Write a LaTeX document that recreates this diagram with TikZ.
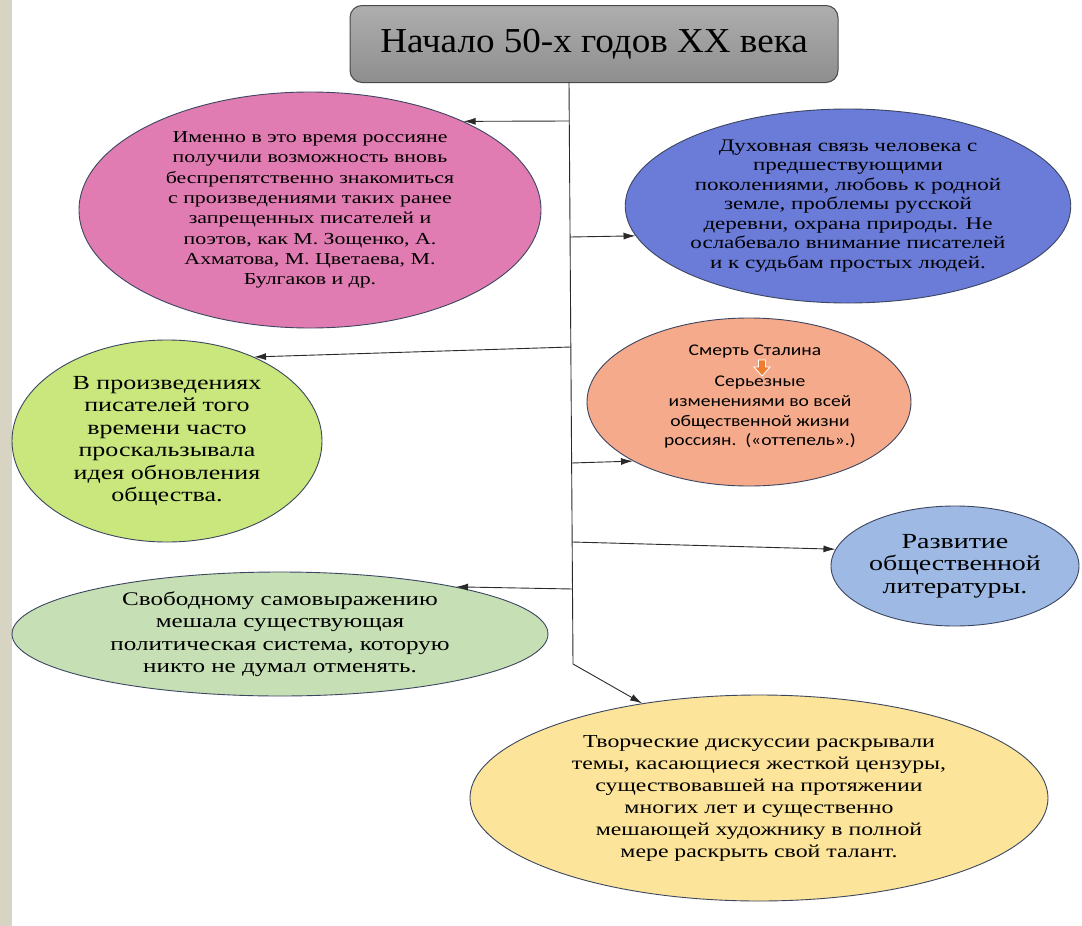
\documentclass[tikz,border=0pt]{standalone}
\usepackage{fontspec}
\setmainfont{Liberation Serif}[FakeStretch=1.3]
\newfontfamily\titlefont{Liberation Serif}[FakeStretch=1.06]
\newfontfamily\sansbody{Carlito}[FakeStretch=1.2]
\usetikzlibrary{shapes.geometric,arrows.meta,positioning}

\definecolor{stripbeige}{HTML}{D8D4C4}
\definecolor{titletop}{HTML}{AEAEAE}
\definecolor{titlebottom}{HTML}{8E8E8E}
\definecolor{titleborder}{HTML}{4A4A4A}
\definecolor{bordergray}{HTML}{3C4660}
\definecolor{linegray}{HTML}{2A2A2A}
\definecolor{pinkfill}{HTML}{E07CB1}
\definecolor{bluefill}{HTML}{6A7BD8}
\definecolor{limefill}{HTML}{C9E77C}
\definecolor{salmonfill}{HTML}{F4AA8B}
\definecolor{skyfill}{HTML}{9DB9E4}
\definecolor{sagefill}{HTML}{C6DFB4}
\definecolor{creamfill}{HTML}{FCE49A}
\definecolor{arroworange}{HTML}{ED7D31}

\begin{document}
\begin{tikzpicture}[x=1pt,y=-1pt,
  bubble/.style={ellipse,draw=bordergray,line width=0.9pt,inner sep=0pt,align=center},
  link/.style={-{Latex[length=12pt,width=7pt]},line width=0.9pt,draw=linegray},
  thawtext/.style={font=\sansbody\fontsize{16.3}{19.7}\selectfont,align=center,inner sep=0pt}]
  \useasboundingbox (0,0) rectangle (1082,926);
  \fill[white] (0,0) rectangle (1082,926);
  \fill[stripbeige] (0,0) rectangle (12,926);

  % heading
  \node[draw=titleborder,top color=titletop,bottom color=titlebottom,rounded corners=12pt,
    line width=1pt,minimum width=488pt,minimum height=77pt,
    font=\titlefont\fontsize{35}{38}\selectfont] (title) at (594,44) {Начало 50-х годов XX века};

  % trunk
  \coordinate (trunktop) at (569,82);
  \coordinate (trunkend) at (573,664);
  \draw[line width=0.9pt,linegray] (trunktop) -- (trunkend);

  % bubbles
  \node[bubble,fill=pinkfill,minimum width=462pt,minimum height=236pt,
    font=\fontsize{16.8}{20.3}\selectfont] (authors) at (310,210)
    {Именно в это время россияне\\получили возможность вновь\\беспрепятственно знакомиться\\с произведениями таких ранее\\запрещенных писателей и\\поэтов, как М. Зощенко, А.\\Ахматова, М. Цветаева, М.\\Булгаков и др.};
  \node[bubble,fill=bluefill,minimum width=440pt,minimum height=194pt,
    font=\fontsize{17.7}{19.5}\selectfont] (themes) at (848,206)
    {Духовная связь человека с\\предшествующими\\поколениями, любовь к родной\\земле, проблемы русской\\деревни, охрана природы. Не\\ослабевало внимание писателей\\и к судьбам простых людей.};
  \node[bubble,fill=limefill,minimum width=310pt,minimum height=202pt,
    font=\fontsize{20}{22.5}\selectfont] (renewal) at (167,441)
    {В произведениях\\писателей того\\времени часто\\проскальзывала\\идея обновления\\общества.};
  \node[bubble,fill=salmonfill,minimum width=324pt,minimum height=168pt] (thaw) at (749,402) {};
  \node[bubble,fill=skyfill,minimum width=248pt,minimum height=120pt,
    font=\fontsize{21.5}{22.5}\selectfont] (literature) at (955,566)
    {Развитие\\общественной\\литературы.};
  \node[bubble,fill=sagefill,minimum width=536pt,minimum height=124pt,
    font=\fontsize{19.3}{22.5}\selectfont] (system) at (280,634)
    {Свободному самовыражению\\мешала существующая\\политическая система, которую\\никто не думал отменять.};
  \node[bubble,fill=creamfill,minimum width=578pt,minimum height=206pt,
    font=\fontsize{18.3}{22}\selectfont] (censorship) at (759,798)
    {Творческие дискуссии раскрывали\\темы, касающиеся жесткой цензуры,\\существовавшей на протяжении\\многих лет и существенно\\мешающей художнику в полной\\мере раскрыть свой талант.};

  % text of the thaw bubble
  \node[thawtext] (death) at (755,352) {Смерть Сталина};
  \coordinate (downarrow) at (762,368);
  \filldraw[fill=arroworange,draw=white,line width=0.8pt,shift={(downarrow)}]
    (-3.5,-8) -- (3.5,-8) -- (3.5,-1) -- (8,-1) -- (0,8) -- (-8,-1) -- (-3.5,-1) -- cycle;
  \node[thawtext,below=8pt of downarrow,xshift=-2pt] (changes)
    {Серьезные\\изменениями во всей\\общественной жизни\\россиян.\ \ («оттепель».)};

  % branches
  \coordinate (b1) at (569.2,121);
  \coordinate (b2) at (570.1,237);
  \coordinate (b3) at (570.8,347);
  \coordinate (b4) at (571.6,463);
  \coordinate (b5) at (572.2,542);
  \coordinate (b6) at (572.5,589);
  \draw[link] (b1) -- (authors.30);
  \draw[link] (b2) -- (themes.188);
  \draw[link] (b3) -- (renewal.44);
  \draw[link] (b4) -- (thaw.207);
  \draw[link] (b5) -- (literature.172);
  \draw[link] (b6) -- (system.15);
  \draw[link] (trunkend) -- (censorship.141);
\end{tikzpicture}
\end{document}
